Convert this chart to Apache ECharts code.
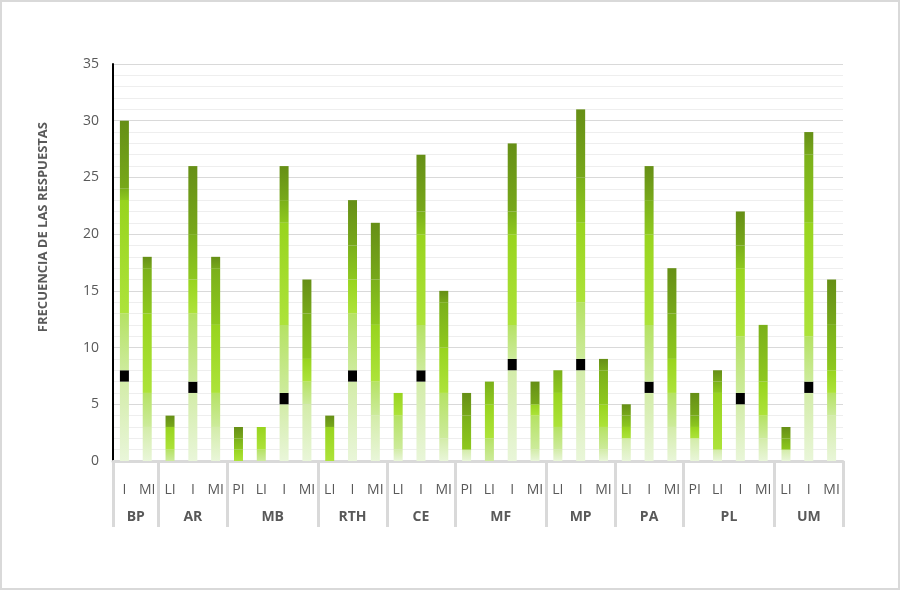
<!DOCTYPE html>
<html>
<head>
<meta charset="utf-8">
<script src="https://cdn.jsdelivr.net/npm/echarts@6/dist/echarts.min.js"></script>
<style>
html,body{margin:0;padding:0;background:#fff;}
#frame{position:absolute;left:0;top:0;width:900px;height:590px;box-sizing:border-box;border:2px solid #d9d9d9;}
#chart{position:absolute;left:0;top:0;width:900px;height:590px;}
</style>
</head>
<body>
<div id="chart"></div>
<div id="frame"></div>
<script>
// Groups and their sub-categories
const groups = ['BP','AR','MB','RTH','CE','MF','MP','PA','PL','UM'];
const subLabels = [
  ['I','MI'],
  ['LI','I','MI'],
  ['PI','LI','I','MI'],
  ['LI','I','MI'],
  ['LI','I','MI'],
  ['PI','LI','I','MI'],
  ['LI','I','MI'],
  ['LI','I','MI'],
  ['PI','LI','I','MI'],
  ['LI','I','MI']
];
// Stacked bands (bottom to top), one value per bar
const veryLight = [7,3, 0,6,3, 0,0,5,5, 0,7,4, 1,7,2, 1,0,8,1, 1,8,1, 2,6,3, 2,1,5,2, 1,6,4];
const marker    = [1,0, 0,1,0, 0,0,1,0, 0,1,0, 0,1,0, 0,0,1,0, 0,1,0, 0,1,0, 0,0,1,0, 0,1,0];
const light     = [5,3, 1,6,3, 0,1,6,2, 0,5,3, 3,4,4, 0,2,3,3, 2,5,2, 0,5,3, 0,0,5,2, 0,4,2];
const lime      = [10,7, 2,3,6, 1,2,9,2, 3,3,5, 2,8,4, 0,3,8,1, 3,7,2, 1,8,3, 1,5,6,3, 0,10,2];
const green     = [1,4, 0,4,5, 1,0,2,4, 0,3,4, 0,2,4, 3,2,2,0, 2,4,3, 1,3,4, 1,1,2,5, 1,6,4];
const dark      = [6,1, 1,6,1, 1,0,3,3, 1,4,5, 0,5,1, 2,0,6,2, 0,6,1, 1,3,4, 2,1,3,0, 1,2,4];

const categories = [];
const boundaries = [0];
const centers = [];
let pos = 0;
subLabels.forEach(function(s){
  s.forEach(function(l){ categories.push(l); });
  centers.push(pos + s.length/2);
  pos += s.length;
  boundaries.push(pos);
});

const chart = echarts.init(document.getElementById('chart'));
const font = '"Open Sans", "Noto Sans", sans-serif';
function grad(bottom, top){
  return new echarts.graphic.LinearGradient(0, 1, 0, 0, [
    {offset:0, color:bottom}, {offset:1, color:top}
  ]);
}
function band(name, data, color){
  return {name:name, type:'bar', stack:'total', data:data, barWidth:9,
    xAxisIndex:0, yAxisIndex:0, itemStyle:{color:color}, emphasis:{disabled:true}};
}
chart.setOption({
  animation:false,
  grid:{left:113, right:57, top:64, bottom:129},
  xAxis:[
    {type:'category', data:categories, position:'bottom',
     axisLine:{show:true, lineStyle:{color:'#d9d9d9', width:3}},
     axisTick:{show:false},
     axisLabel:{interval:0, margin:22, color:'#595959', fontSize:14, fontFamily:font}},
    {type:'value', min:0, max:pos, position:'bottom',
     axisLine:{show:false},
     splitLine:{show:false},
     axisTick:{show:true, inside:false, length:66, customValues:boundaries,
       lineStyle:{color:'#d9d9d9', width:3}},
     axisLabel:{show:true, margin:49, customValues:centers, color:'#595959',
       fontSize:14, fontWeight:'bold', fontFamily:font,
       formatter:function(v){
         for (let i=0;i<centers.length;i++){ if (Math.abs(centers[i]-v)<1e-6) return groups[i]; }
         return '';
       }}}
  ],
  yAxis:{type:'value', min:0, max:35, interval:5,
    axisLine:{show:true, lineStyle:{color:'#000', width:2}},
    axisTick:{show:false},
    axisLabel:{color:'#595959', fontSize:14, fontFamily:font, margin:14},
    splitLine:{lineStyle:{color:'#d9d9d9', width:1}},
    minorTick:{show:false, splitNumber:5},
    minorSplitLine:{show:true, lineStyle:{color:'#eeeeee', width:1}}},
  graphic:[{type:'text', left:37, top:122,
    style:{text:'FRECUENCIA DE LAS RESPUESTAS', fill:'#595959',
      font:'bold 13px "Open Sans", "Noto Sans", sans-serif'},
    rotation:Math.PI/2, originX:0, originY:0}],
  series:[
    band('b1', veryLight, grad('#e9f6d9', '#d3eca9')),
    band('marker', marker, '#000000'),
    band('b2', light, grad('#cdeb9c', '#b5e264')),
    band('b3', lime, grad('#ade33a', '#98d41e')),
    band('b4', green, grad('#8ec81f', '#7bb01a')),
    band('b5', dark, grad('#77a81a', '#668f16'))
  ]
});
</script>
</body>
</html>
